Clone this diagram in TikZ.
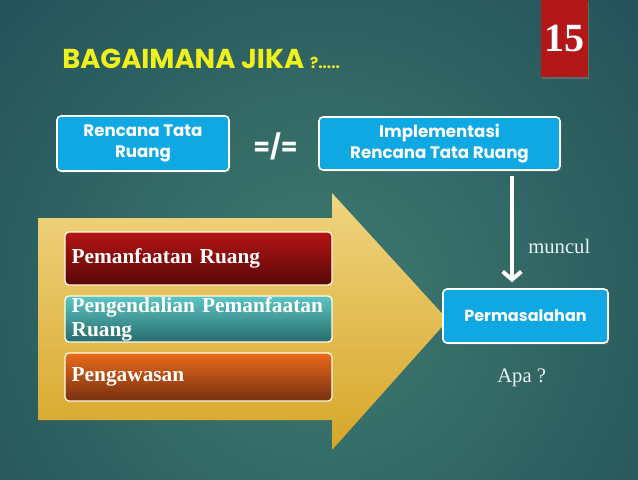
\documentclass[tikz,border=0pt]{standalone}
\usepackage{fontspec}
\setmainfont{Liberation Serif}
\setsansfont{Poppins}
\usetikzlibrary{arrows.meta, shadows}
\definecolor{boxblue}{RGB}{16,168,226}
\definecolor{titleyellow}{RGB}{240,240,28}
\definecolor{numred}{RGB}{178,24,24}
\definecolor{bgdark}{RGB}{21,56,76}
\definecolor{bglight}{RGB}{62,124,112}
\definecolor{goldtop}{RGB}{240,212,128}
\definecolor{goldmid}{RGB}{234,190,60}
\definecolor{goldbot}{RGB}{214,166,40}
\definecolor{redtop}{RGB}{180,20,20}
\definecolor{redbot}{RGB}{88,8,8}
\definecolor{tealtop}{RGB}{92,198,196}
\definecolor{tealbot}{RGB}{40,106,108}
\definecolor{orangetop}{RGB}{234,106,28}
\definecolor{orangebot}{RGB}{118,48,16}
\definecolor{notewhite}{RGB}{235,240,240}
\tikzset{
	plan/.style = {
		draw=white,
		line width=1.2pt,
		rounded corners=3pt,
		fill=boxblue,
		text=white,
		font=\sffamily\bfseries\fontsize{12.5}{15.75}\selectfont,
		align=center,
		drop shadow={opacity=0.45, shadow xshift=1pt, shadow yshift=-1.2pt}
	},
	stage/.style = {
		draw=white!90!yellow,
		line width=1pt,
		rounded corners=3pt,
		text=white,
		font=\bfseries\fontsize{16}{18}\selectfont,
		text width=190.25pt,
		inner xsep=5pt,
		inner ysep=0pt,
		align=left
	},
	note/.style = {
		text=notewhite,
		font=\fontsize{15.5}{18}\selectfont,
		inner sep=0pt
	}
}
\tikzstyle{arrow} = [-{Straight Barb[length=6pt,width=14pt]}, line width=3pt, white]

\begin{document}
\begin{tikzpicture}[x=0.75pt, y=-0.75pt]
\useasboundingbox (0,0) rectangle (638,479);
\begin{scope}
\clip (0,0) rectangle (638,479);
\shade[inner color=bglight, outer color=bgdark] (320,300) circle [radius=700];
\end{scope}

\node[anchor=base west, inner sep=0pt, text=titleyellow, font=\sffamily\bfseries\fontsize{20.5}{22}\selectfont] (title) at (62,68) {BAGAIMANA JIKA {\fontsize{11.5}{12}\selectfont ?.....}};
\node[fill=numred, text=white, font=\bfseries\fontsize{30}{32}\selectfont, minimum width=35.25pt, minimum height=57.75pt, inner sep=0pt, drop shadow={opacity=0.5, shadow xshift=1pt, shadow yshift=-1.5pt}] (num) at (564.5,38.5) {15};

\node[plan, minimum width=129pt, minimum height=41.25pt] (rtr) at (143,143.5) {Rencana Tata\\Ruang};
\node[font=\sffamily\bfseries\fontsize{18}{18}\selectfont, text=white] (neq) at (275.5,146) {=/=};
\node[plan, minimum width=180.75pt, minimum height=39.75pt] (impl) at (439.5,143.5) {Implementasi\\Rencana Tata Ruang};

\shade[top color=goldtop, middle color=goldmid, bottom color=goldbot] (38,218) -- (332,218) -- (332,193) -- (448,320) -- (332,450) -- (332,420) -- (38,420) -- cycle;

\node[stage, top color=redtop, bottom color=redbot, minimum height=39.75pt] (use) at (198.5,258.5) {Pemanfaatan Ruang};
\node[stage, top color=tealtop, bottom color=tealbot, minimum height=34.5pt] (ctrl) at (198.5,319) {Pengendalian Pemanfaatan\\Ruang};
\node[stage, top color=orangetop, bottom color=orangebot, minimum height=36pt] (watch) at (198.5,377) {Pengawasan};

\node[plan, font=\sffamily\bfseries\fontsize{12}{15}\selectfont, minimum width=123.75pt, minimum height=40.5pt] (perm) at (525.5,316) {Permasalahan};

\coordinate (drop) at (512,0);
\draw[arrow, shorten <=3.75pt, shorten >=4.5pt] (impl.south -| drop) -- (perm.north -| drop);

\node[note, anchor=base west] (muncul) at (528,253) {muncul};
\node[note, anchor=base west] (apa) at (497,382) {Apa ?};
\end{tikzpicture}
\end{document}
